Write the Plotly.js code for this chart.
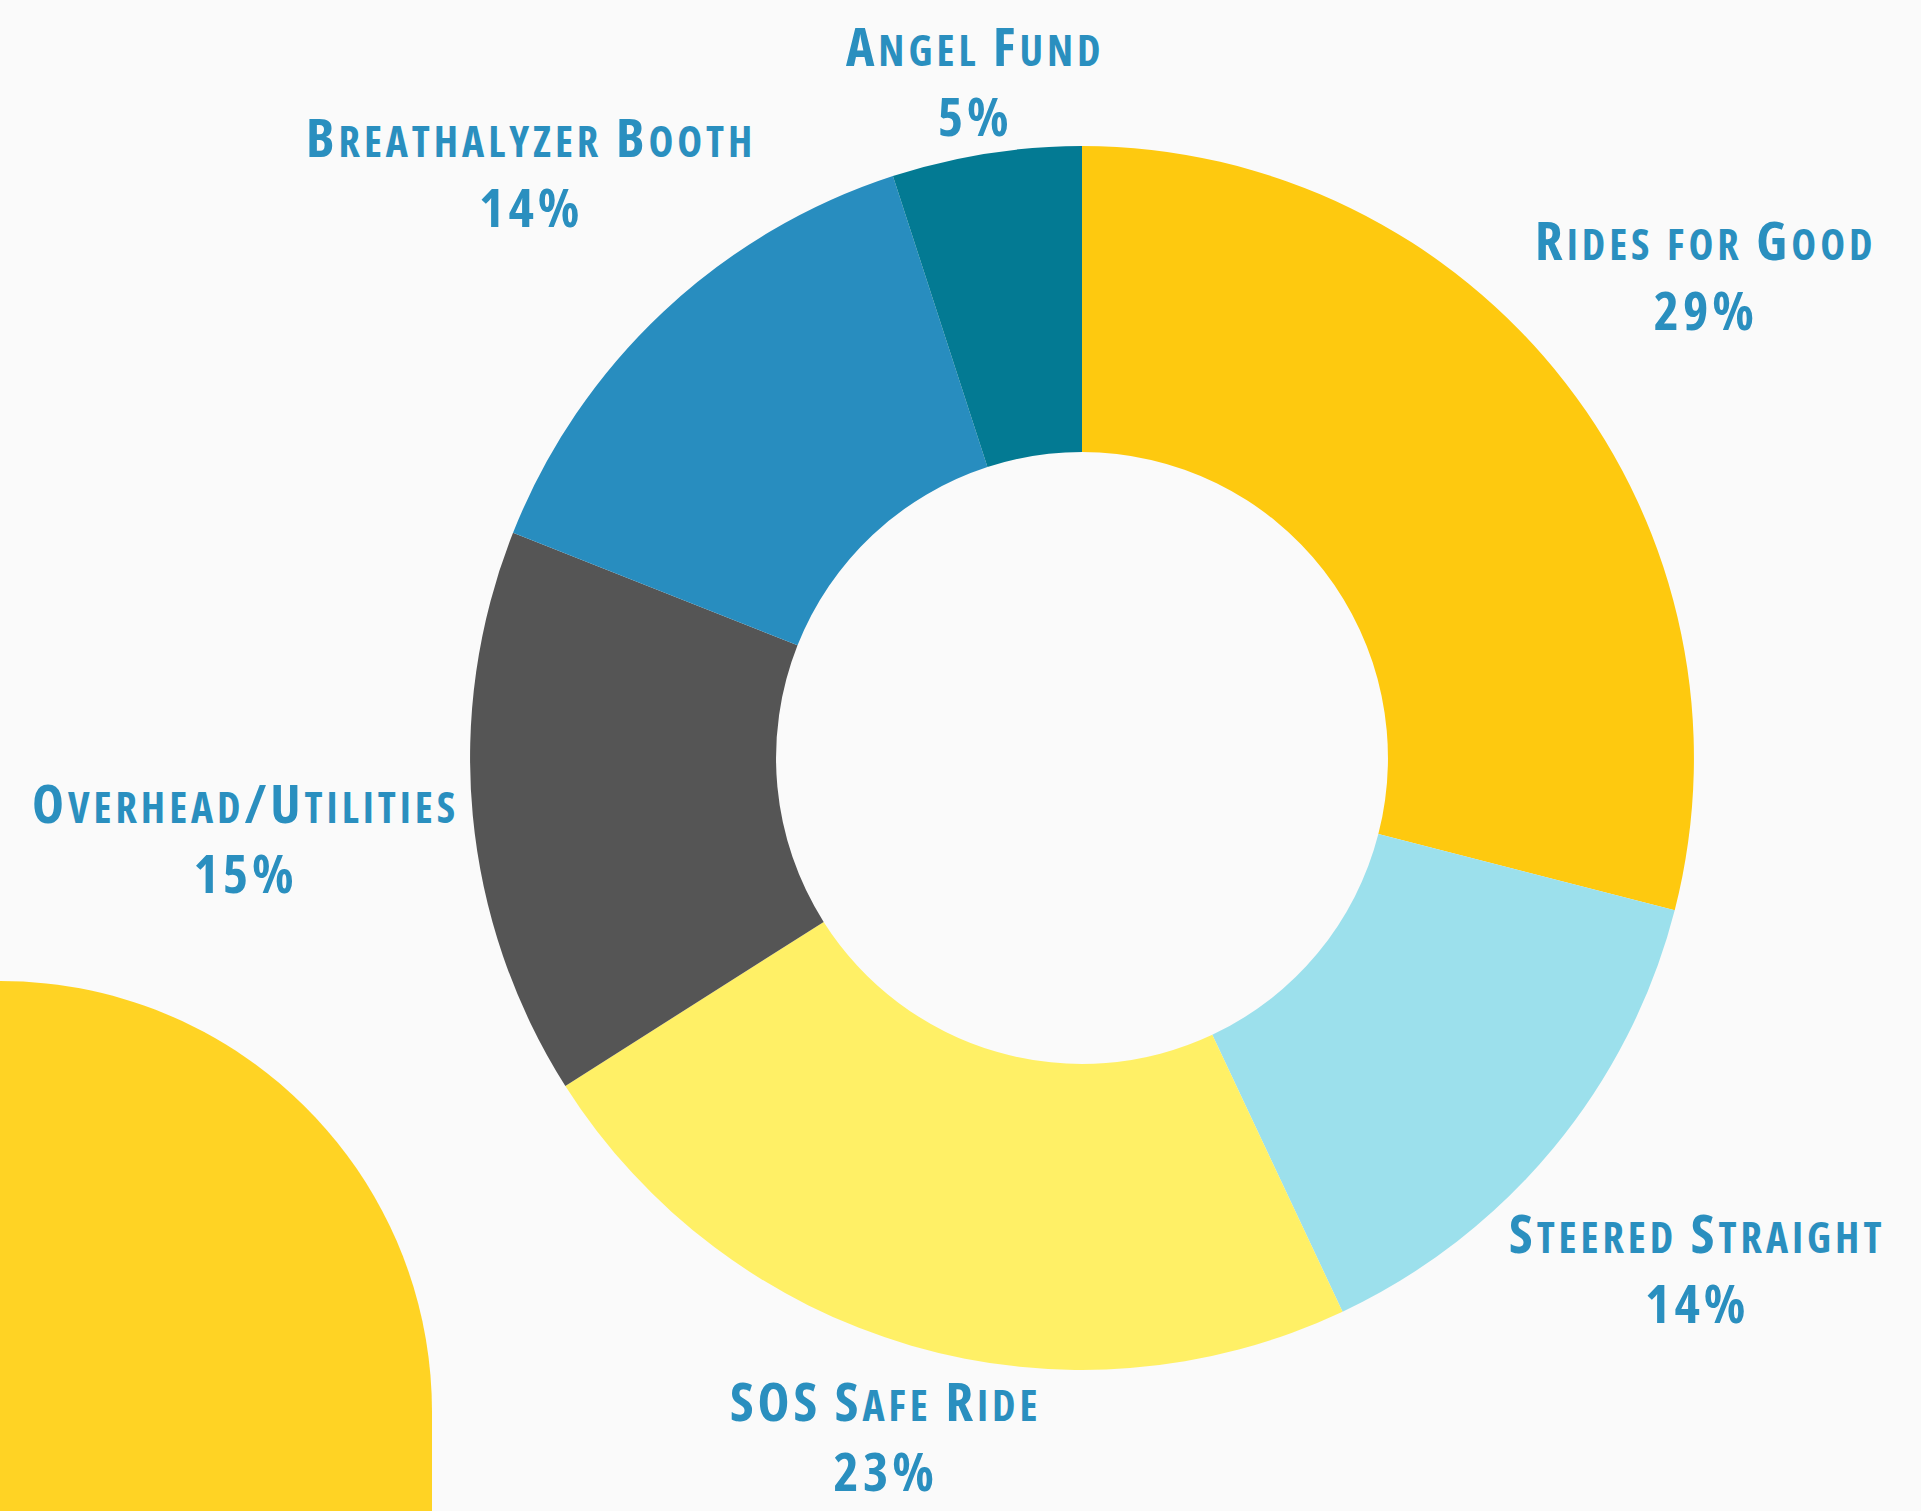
<!DOCTYPE html>
<html>
<head>
<meta charset="utf-8">
<script src="https://cdn.plot.ly/plotly-3.0.1.min.js"></script>
<style>
  html, body { margin: 0; padding: 0; background: #fafafa; }
  #chart { width: 1921px; height: 1511px; }
</style>
</head>
<body>
<div id="chart"></div>
<script>
const categories = ["Rides for Good", "Steered Straight", "SOS Safe Ride", "Overhead/Utilities", "Breathalyzer Booth", "Angel Fund"];
const shares = [29, 14, 23, 15, 14, 5];
const sliceColors = ["#fec90f", "#9ce0ec", "#fff066", "#555555", "#288dbf", "#037a93"];

const W = 1921, H = 1511;
const pieDomain = { x: [0.2447, 0.8818], y: [0.0933, 0.9034] };
const labelColor = "#2a8fbf";
const size = 54;
const smallSize = Math.round(size * 0.78);

// ---- choose a narrower bold face if one is installed ----
const ctx = document.createElement("canvas").getContext("2d");
const sample = "Overhead/Utilities";
const candidates = ["Open Sans", "Roboto", "Noto Sans", "DejaVu Sans", "Inter", "Lato"];
let family = "DejaVu Sans", stretch = "normal";
for (const fam of candidates) {
  ctx.font = "bold 50px '" + fam + "'";
  const w0 = ctx.measureText(sample).width;
  ctx.font = "bold condensed 50px '" + fam + "'";
  const w1 = ctx.measureText(sample).width;
  if (w1 < w0 * 0.9) { family = fam; stretch = "semi-condensed"; break; }
}
const fontAt = sz => "bold " + (stretch !== "normal" ? stretch + " " : "") + sz + "px '" + family + "'";

// split a label into small-caps runs: capitals full size, lower case as smaller capitals
function runs(str) {
  const out = [];
  for (const ch of str) {
    const small = ch !== ch.toUpperCase();
    const last = out[out.length - 1];
    if (last && last.small === small) last.t += ch; else out.push({ small: small, t: ch });
  }
  return out;
}
function measure(str, ls) {
  ctx.letterSpacing = ls + "px";
  let w = 0;
  runs(str).forEach(r => {
    ctx.font = fontAt(r.small ? smallSize : size);
    w += ctx.measureText(r.small ? r.t.toUpperCase() : r.t).width;
  });
  return w;
}
function smallCapsHTML(str) {
  return runs(str).map(r => r.small
    ? '<span style="font-size:' + smallSize + 'px">' + r.t.toUpperCase() + '</span>'
    : r.t).join("");
}
const plainW = measure(sample, 0);
const spacing = Math.max(0, Math.min(5, (427 - plainW) / sample.length));

const st = document.createElement("style");
st.textContent = "text.annotation-text { font-stretch: " + stretch + "; letter-spacing: " + spacing.toFixed(2) + "px; }";
document.head.appendChild(st);

const labelFont = {
  family: "'" + family + "', sans-serif",
  size: size,
  color: labelColor,
  weight: "bold"
};

const trace = {
  type: "pie",
  labels: categories,
  values: shares,
  sort: false,
  direction: "clockwise",
  rotation: 0,
  hole: 0.5,
  marker: { colors: sliceColors, line: { width: 0 } },
  textinfo: "none",
  showlegend: false,
  hoverinfo: "label+percent",
  domain: pieDomain
};

// ---- outside labels: centred on each slice's mid-angle ray, box kept just clear of the rim ----
const cx = (pieDomain.x[0] + pieDomain.x[1]) / 2 * W;
const cyUp = (pieDomain.y[0] + pieDomain.y[1]) / 2 * H;
const radius = Math.min((pieDomain.x[1] - pieDomain.x[0]) * W, (pieDomain.y[1] - pieDomain.y[0]) * H) / 2;
const gap = 12;
const boxH = size * 0.72 + size * 1.3;
const total = shares.reduce((a, b) => a + b, 0);

const annotations = [];
let cum = 0;
shares.forEach((v, i) => {
  const theta = 2 * Math.PI * (cum + v / 2) / total;
  cum += v;
  const s = Math.sin(theta), c = Math.cos(theta);
  const pct = Math.round(100 * v / total) + "%";
  const boxW = Math.max(measure(categories[i], spacing), measure(pct, spacing));
  const nearest = R => {
    const px = Math.max(0, Math.abs(R * s) - boxW / 2);
    const py = Math.max(0, Math.abs(R * c) - boxH / 2);
    return Math.hypot(px, py);
  };
  let lo = 0, hi = 3 * radius;
  for (let k = 0; k < 60; k++) {
    const mid = (lo + hi) / 2;
    if (nearest(mid) < radius + gap) lo = mid; else hi = mid;
  }
  const R = hi;
  annotations.push({
    xref: "paper", yref: "paper",
    x: (cx + R * s) / W, y: (cyUp + R * c) / H,
    text: smallCapsHTML(categories[i]) + "<br>" + pct,
    showarrow: false, xanchor: "center", yanchor: "middle", align: "center",
    font: labelFont
  });
});

// decorative blob bottom-left (paper coords, margins 0)
const kArc = 0.5523;
const blobCy = 1 - 1412 / 1511, blobTop = 1 - 981 / 1511;
const blobRx = 432 / 1921;
const blobPath = "M 0 0 L 0 " + blobTop +
  " C " + (kArc * blobRx) + " " + blobTop + " " + blobRx + " " + (blobCy + (blobTop - blobCy) * kArc) + " " + blobRx + " " + blobCy +
  " L " + blobRx + " 0 Z";

const layout = {
  width: W,
  height: H,
  margin: { l: 0, r: 0, t: 0, b: 0 },
  paper_bgcolor: "#fafafa",
  plot_bgcolor: "#fafafa",
  annotations: annotations,
  shapes: [{
    type: "path", xref: "paper", yref: "paper", path: blobPath,
    fillcolor: "#ffd324", line: { width: 0 }, layer: "below"
  }]
};

Plotly.newPlot("chart", [trace], layout, { displayModeBar: false, staticPlot: true });
</script>
</body>
</html>
